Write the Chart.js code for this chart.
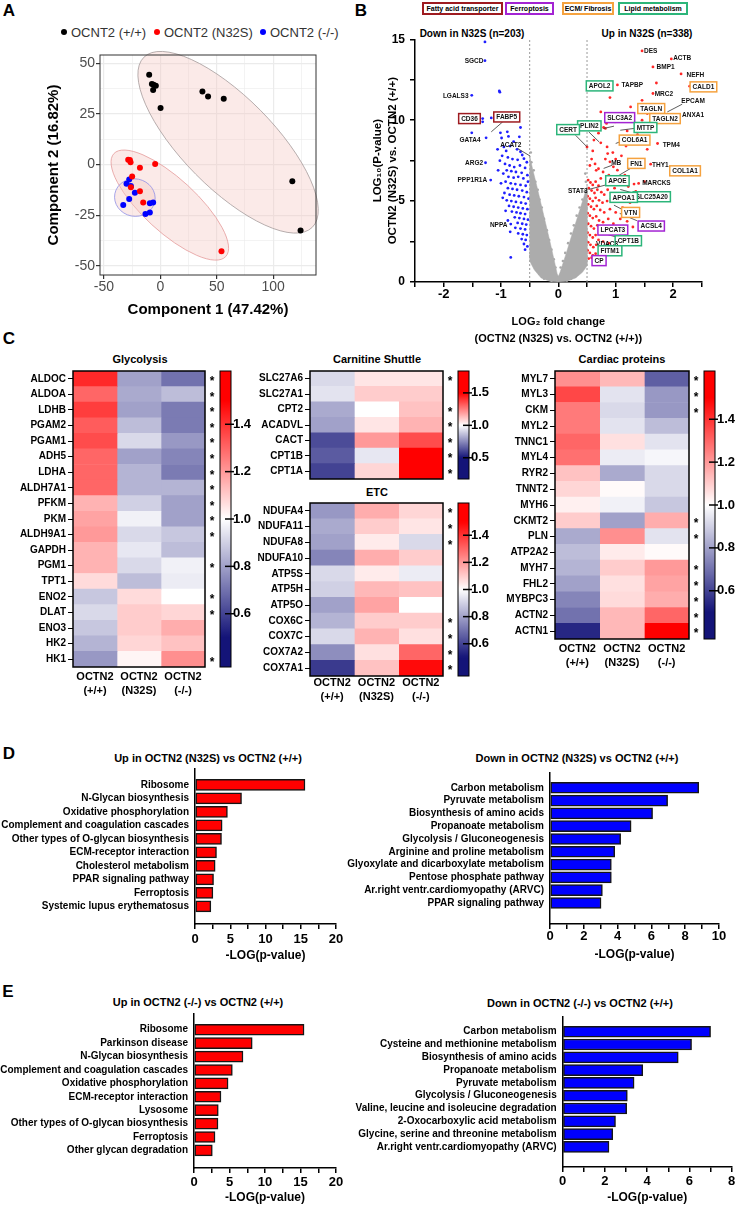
<!DOCTYPE html>
<html>
<head>
<meta charset="utf-8">
<title>OCTN2 proteomics</title>
<script src="https://cdn.jsdelivr.net/npm/chart.js@4.4.1/dist/chart.umd.min.js"></script>
<style>
  body { margin: 0; background: #fff; }
  #fig { position: relative; width: 739px; height: 1207px; overflow: hidden; font-family: 'Liberation Sans', Arial, sans-serif; color: #000; }
  #fig canvas { position: absolute; }
  .t { position: absolute; white-space: nowrap; transform: translate(-50%, -50%); font-weight: bold; }
  .panel { position: absolute; font-weight: bold; font-size: 17px; transform: translate(-50%, -50%); }
  .dot { position: absolute; width: 6px; height: 6px; border-radius: 50%; }
  .lg { position: absolute; font-size: 13px; color: #333; transform: translateY(-50%); white-space: nowrap; }
  .cat { position: absolute; box-sizing: border-box; border: 2px solid; background: #fff; font-weight: bold; font-size: 7px; text-align: center; line-height: 9px; white-space: nowrap; }
</style>
</head>
<body>
<div id="fig">
  <div class="panel" style="left:9px;top:11px">A</div>
  <div class="panel" style="left:361px;top:11px">B</div>
  <div class="panel" style="left:9px;top:339px">C</div>
  <div class="panel" style="left:9px;top:754px">D</div>
  <div class="panel" style="left:8px;top:992px">E</div>

  <span class="dot" style="left:61px;top:29px;background:#000"></span><div class="lg" style="left:71px;top:32px">OCNT2 (+/+)</div>
  <span class="dot" style="left:154px;top:29px;background:#ff0000"></span><div class="lg" style="left:164px;top:32px">OCNT2 (N32S)</div>
  <span class="dot" style="left:260px;top:29px;background:#0000ff"></span><div class="lg" style="left:270px;top:32px">OCNT2 (-/-)</div>

  <div class="cat" style="left:422px;top:2px;width:81px;height:13px;border-color:#9e1b20">Fatty acid transporter</div>
  <div class="cat" style="left:505px;top:2px;width:49px;height:13px;border-color:#a324d3">Ferroptosis</div>
  <div class="cat" style="left:562px;top:2px;width:52px;height:13px;border-color:#f5a23f">ECM/ Fibrosis</div>
  <div class="cat" style="left:618px;top:2px;width:70px;height:13px;border-color:#2cb57a">Lipid metabolism</div>
  <div class="t" style="left:472px;top:33px;font-size:10px">Down in N32S (n=203)</div>
  <div class="t" style="left:647px;top:33px;font-size:10px">Up in N32S (n=338)</div>

  <div class="t" style="left:140px;top:359px;font-size:11px">Glycolysis</div>
  <div class="t" style="left:377px;top:359px;font-size:11px">Carnitine Shuttle</div>
  <div class="t" style="left:377px;top:492px;font-size:11px">ETC</div>
  <div class="t" style="left:622px;top:359px;font-size:11px">Cardiac proteins</div>

  <div class="t" style="left:208px;top:758px;font-size:11px">Up in OCTN2 (N32S) vs OCTN2 (+/+)</div>
  <div class="t" style="left:577px;top:758px;font-size:11px">Down in OCTN2 (N32S) vs OCTN2 (+/+)</div>
  <div class="t" style="left:198px;top:1002px;font-size:11px">Up in OCTN2 (-/-) vs OCTN2 (+/+)</div>
  <div class="t" style="left:580px;top:1003px;font-size:11px">Down in OCTN2 (-/-) vs OCTN2 (+/+)</div>

  <canvas id="pcaChart" width="345" height="285" style="left:0px;top:40px"></canvas>
  <canvas id="volcanoChart" width="369" height="330" style="left:370px;top:20px"></canvas>
  <canvas id="glycChart" width="260" height="335" style="left:0px;top:365px"></canvas>
  <canvas id="carnChart" width="250" height="118" style="left:240px;top:365px"></canvas>
  <canvas id="etcChart" width="250" height="210" style="left:240px;top:497px"></canvas>
  <canvas id="cardChart" width="259" height="310" style="left:480px;top:365px"></canvas>
  <canvas id="upN32SChart" width="370" height="205" style="left:0px;top:762px"></canvas>
  <canvas id="downN32SChart" width="419" height="205" style="left:320px;top:762px"></canvas>
  <canvas id="upKOChart" width="370" height="199" style="left:0px;top:1008px"></canvas>
  <canvas id="downKOChart" width="419" height="199" style="left:320px;top:1008px"></canvas>
</div>

<script>
// ---- A: PCA scores ----
const pcaWT = [[-9.9, 44.3], [-7.5, 39.7], [-4, 38.9], [-6.4, 36.8], [-6, 39.3], [0.2, 27.9],
  [37.3, 36], [42.3, 33.5], [56.2, 32.4], [117, -8.2], [124.3, -32.5]];
const pcaN32S = [[-28.5, 2.4], [-27, 2.3], [-26.4, 1.1], [-18.1, -1.6], [-4.6, 0.3], [-25, -5.9],
  [-26.1, -11.2], [-18.1, -13.1], [-15.2, -18.7], [54.2, -42.7]];
const pcaKO = [[-27.6, -7.4], [-30, -9.5], [-26.1, -10.5], [-22.6, -13.9], [-27.6, -16.9], [-32.9, -19.9],
  [-9.3, -19.1], [-6.4, -18.7], [-13.2, -24.3], [-9.3, -23.6]];
// group ellipses: ends of the long axis (data units) and short/long ratio
const pcaEllipses = [
  { from: [-14.6, 52.9], to: [134.7, -30.9], ratio: 0.38 },
  { from: [-41.2, 5.4], to: [58, -45.3], ratio: 0.35 },
  { from: [-40.3, -14.3], to: [-4.9, -18.2], ratio: 0.92 }
];

// ---- B: volcano ----
const volcanoDown = [[-1.28, 14.84], [-1.28, 13.68], [-1.03, 11.81], [-1.02, 11.73], [-1.51, 11.54],
  [-1.32, 10.1], [-1.32, 9.9], [-1.17, 10.14], [-1.51, 9.22], [-1.26, 8.91], [-1.01, 9.22], [-0.89, 9.28],
  [-0.66, 9.55], [-0.87, 9.0], [-0.68, 8.97], [-0.78, 8.68], [-1.27, 7.37], [-1.18, 6.3], [-0.83, 1.52], [-0.83, 3.58],
  [-0.95, 8.35], [-0.91, 8.1], [-0.84, 8.4], [-0.72, 8.2], [-0.66, 8.05], [-0.63, 7.85], [-0.98, 7.8], [-0.88, 7.7],
  [-0.8, 7.6], [-0.71, 7.55], [-0.6, 7.62], [-0.55, 7.4], [-0.93, 7.3], [-0.85, 7.2], [-0.77, 7.1], [-0.67, 7.2],
  [-0.58, 7.05], [-0.9, 6.9], [-0.82, 6.85], [-0.74, 6.8], [-0.64, 6.75], [-0.54, 6.6], [-0.96, 6.7], [-0.87, 6.5],
  [-0.78, 6.45], [-0.7, 6.5], [-0.61, 6.4], [-0.53, 6.2], [-0.92, 6.2], [-0.83, 6.1], [-0.75, 6.05], [-0.66, 6.0],
  [-0.57, 5.95], [-0.88, 5.8], [-0.8, 5.75], [-0.72, 5.7], [-0.63, 5.65], [-0.55, 5.55], [-0.94, 5.5], [-0.85, 5.4],
  [-0.77, 5.35], [-0.69, 5.3], [-0.6, 5.25], [-0.52, 5.15], [-0.9, 5.05], [-0.82, 5.0], [-0.74, 4.95], [-0.65, 4.9],
  [-0.57, 4.85], [-0.86, 4.7], [-0.78, 4.65], [-0.7, 4.6], [-0.62, 4.55], [-0.54, 4.5], [-0.81, 4.35], [-0.73, 4.3],
  [-0.66, 4.25], [-0.58, 4.2], [-0.76, 4.0], [-0.68, 3.95], [-0.6, 3.9], [-0.53, 3.85], [-0.71, 3.65], [-0.63, 3.6],
  [-0.56, 3.55], [-0.75, 3.35], [-0.66, 3.3], [-0.58, 3.25], [-0.7, 3.0], [-0.62, 2.95], [-0.55, 2.9], [-0.64, 2.65],
  [-0.57, 2.6], [-0.6, 2.35], [-0.54, 2.2], [-0.58, 2.0], [-0.99, 8.9], [-1.06, 8.2], [-1.02, 7.5], [-1.05, 6.9],
  [-1.0, 6.1], [-0.97, 5.2], [-0.92, 4.4], [-0.88, 3.8], [-0.84, 3.1]];
const volcanoUp = [[1.46, 14.28], [1.97, 13.79], [1.65, 13.29], [2.14, 12.86], [1.71, 12.3], [2.29, 12.1],
  [0.92, 12.18], [1.03, 12.18], [1.65, 11.65], [0.9, 11.4], [1.46, 11.23], [1.26, 10.82], [0.74, 10.51],
  [1.72, 10.82], [1.55, 10.41], [0.79, 9.55], [0.82, 9.49], [1.14, 10.0], [1.46, 10.0], [0.99, 9.9], [1.73, 8.56],
  [0.62, 8.77], [0.74, 8.6], [0.5, 8.35], [0.85, 8.35], [1.08, 8.77], [1.32, 8.97], [1.2, 9.34], [1.61, 7.28],
  [2.06, 6.91], [1.4, 7.16], [1.4, 6.09], [1.32, 6.05], [1.16, 6.6], [1.03, 6.91], [0.86, 7.94], [0.9, 7.43],
  [0.96, 7.12], [0.58, 7.6], [0.64, 7.3], [0.7, 7.0], [0.78, 6.8], [0.66, 6.9], [0.55, 7.2], [0.82, 7.6], [0.95, 8.0],
  [1.1, 7.8], [0.6, 8.1], [1.0, 7.6], [0.88, 6.6], [0.74, 6.4], [1.1, 6.3], [1.22, 5.9], [0.98, 5.8], [0.86, 5.7],
  [0.52, 6.3], [0.56, 6.15], [0.6, 6.0], [0.65, 6.2], [0.7, 5.95], [0.53, 5.8], [0.58, 5.65], [0.63, 5.5], [0.68, 5.7],
  [0.75, 5.55], [0.8, 5.4], [0.51, 5.3], [0.55, 5.15], [0.6, 5.0], [0.65, 5.2], [0.71, 5.05], [0.77, 4.9], [0.85, 5.0],
  [0.92, 5.15], [1.02, 5.0], [0.52, 4.8], [0.57, 4.65], [0.62, 4.5], [0.67, 4.7], [0.73, 4.45], [0.8, 4.3], [0.9, 4.5],
  [1.0, 4.3], [1.12, 4.6], [1.25, 4.9], [0.51, 4.25], [0.55, 4.1], [0.6, 3.95], [0.66, 4.05], [0.71, 3.8], [0.78, 3.7],
  [0.87, 3.9], [0.96, 3.6], [1.08, 3.9], [1.2, 3.75], [1.3, 3.4], [0.52, 3.6], [0.57, 3.45], [0.62, 3.3], [0.68, 3.5],
  [0.74, 3.2], [0.82, 3.1], [0.92, 3.0], [0.51, 3.05], [0.55, 2.9], [0.6, 2.75], [0.65, 2.9], [0.7, 2.6], [0.78, 2.5],
  [0.88, 2.4], [0.52, 2.45], [0.56, 2.3], [0.61, 2.15], [0.66, 2.3], [0.72, 2.05], [0.8, 1.9], [0.51, 1.95], [0.55, 1.8],
  [0.6, 1.65], [0.65, 1.75], [0.58, 1.5], [0.53, 1.45], [0.68, 1.55], [0.9, 6.1], [1.05, 6.4], [1.15, 5.3], [1.35, 5.6],
  [1.5, 6.2], [1.28, 7.5], [1.55, 8.2], [1.38, 9.1], [1.18, 8.4], [0.84, 9.8], [0.7, 9.2]];
// non-significant proteins: outline of the dense grey cloud plus the loose points round it
const volcanoNSArea = [[0, 0], [-0.15, 0.05], [-0.3, 0.25], [-0.42, 0.75], [-0.5, 1.3], [-0.5, 7.8], [-0.45, 7.0],
  [-0.38, 6.0], [-0.3, 4.8], [-0.22, 3.6], [-0.14, 2.4], [-0.07, 1.3], [-0.02, 0.5], [0, 0.35], [0.03, 0.6],
  [0.08, 1.15], [0.14, 1.8], [0.2, 2.5], [0.28, 3.4], [0.36, 4.3], [0.44, 5.2], [0.5, 5.9], [0.5, 1.0], [0.42, 0.6],
  [0.3, 0.25], [0.15, 0.05], [0, 0]];
const volcanoNS = [[-0.48, 8.0], [-0.47, 7.4], [-0.43, 6.9], [-0.4, 6.2], [-0.36, 5.7], [-0.33, 5.1], [-0.29, 4.6],
  [-0.25, 3.9], [-0.2, 3.2], [-0.16, 2.6], [-0.12, 2.0], [-0.08, 1.4], [-0.05, 0.9], [0.04, 0.9], [0.08, 1.3], [0.12, 1.8],
  [0.17, 2.4], [0.22, 3.0], [0.27, 3.5], [0.32, 4.1], [0.37, 4.6], [0.42, 5.1], [0.46, 5.6], [0.48, 6.2], [0.47, 6.7],
  [-0.49, 6.5], [-0.47, 5.4], [-0.49, 4.1], [-0.46, 2.6], [-0.49, 1.6], [-0.4, 1.1], [-0.33, 0.5], [-0.25, 0.2],
  [0.22, 0.2], [0.3, 0.35], [0.38, 0.7], [0.45, 1.0], [0.49, 1.6], [0.48, 3.2], [0.49, 4.6], [-0.38, 0.75],
  [0.15, 0.1], [-0.12, 0.08]];
// gene, label x, label y, category (-1 = none; 0 fatty acid, 1 ferroptosis, 2 ECM, 3 lipid)
const volcanoLabels = [
  ['SGCD', -1.47, 13.66, -1], ['LGALS3', -1.79, 11.5, -1], ['CD36', -1.55, 10.1, 0], ['FABP5', -0.9, 10.2, 0],
  ['GATA4', -1.54, 8.8, -1], ['ACAT2', -0.83, 8.46, -1], ['ARG2', -1.47, 7.37, -1], ['PPP1R1A', -1.5, 6.3, -1],
  ['NPPA', -1.04, 3.52, -1], ['DES', 1.61, 14.32, -1], ['ACTB', 2.16, 13.85, -1], ['BMP1', 1.87, 13.3, -1],
  ['NEFH', 2.39, 12.84, -1], ['APOL2', 0.72, 12.12, 3], ['TAPBP', 1.29, 12.18, -1], ['CALD1', 2.53, 12.06, 2],
  ['MRC2', 1.84, 11.65, -1], ['EPCAM', 2.35, 11.19, -1], ['TAGLN', 1.62, 10.72, 2], ['ANXA1', 2.35, 10.37, -1],
  ['TAGLN2', 1.86, 10.1, 2], ['SLC3A2', 1.07, 10.16, 1], ['PLIN2', 0.54, 9.65, 3], ['CERT', 0.17, 9.42, 3],
  ['MTTP', 1.52, 9.55, 3], ['COL6A1', 1.33, 8.77, 2], ['TPM4', 1.97, 8.5, -1], ['MB', 1.01, 7.39, -1],
  ['FN1', 1.36, 7.33, 2], ['THY1', 1.78, 7.28, -1], ['COL1A1', 2.21, 6.87, 2], ['APOE', 1.03, 6.26, 3],
  ['MARCKS', 1.71, 6.13, -1], ['STAT3', 0.34, 5.62, -1], ['SLC25A20', 1.63, 5.27, 3], ['APOA1', 1.14, 5.23, 3],
  ['VTN', 1.26, 4.3, 2], ['ACSL4', 1.62, 3.46, 1], ['LPCAT3', 0.95, 3.21, 1], ['CPT1B', 1.22, 2.55, 3],
  ['VDAC3', 0.85, 2.39, -1], ['FITM1', 0.9, 1.93, 3], ['CP', 0.71, 1.32, 1]];
const volcanoLeaders = [[-0.97, 9.9, -1.17, 9.28], [-0.71, 8.25, -0.49, 7.78], [2.16, 10.99, 1.9, 10.51],
  [0.97, 9.63, 0.79, 9.49], [0.53, 9.28, 0.71, 8.66], [0.3, 9.07, 0.5, 8.35], [1.32, 9.49, 1.08, 9.38],
  [1.07, 8.66, 1.0, 8.56], [0.94, 7.22, 0.79, 7.02], [1.26, 7.02, 1.06, 6.6], [0.53, 5.72, 0.82, 5.99],
  [1.37, 5.43, 1.08, 5.72], [1.11, 4.49, 0.97, 4.75], [1.37, 3.79, 1.07, 4.24], [1.03, 2.76, 0.79, 3.0]];

// ---- C: heat maps (fold change vs mean) ----
const heatColumns = ['(+/+)', '(N32S)', '(-/-)'];
const glycGenes = ['ALDOC', 'ALDOA', 'LDHB', 'PGAM2', 'PGAM1', 'ADH5', 'LDHA', 'ALDH7A1', 'PFKM', 'PKM', 'ALDH9A1',
  'GAPDH', 'PGM1', 'TPT1', 'ENO2', 'DLAT', 'ENO3', 'HK2', 'HK1'];
const glycWT = [1.42, 1.30, 1.38, 1.32, 1.35, 1.30, 1.30, 1.30, 1.15, 1.18, 1.20, 1.15, 1.15, 1.07, 0.88, 0.92, 0.88, 0.84, 0.78];
const glycN32S = [0.80, 0.82, 0.80, 0.86, 0.92, 0.80, 0.84, 0.84, 0.90, 0.97, 0.92, 0.95, 0.92, 0.86, 1.07, 1.10, 1.10, 1.08, 1.02];
const glycKO = [0.70, 0.86, 0.72, 0.72, 0.78, 0.74, 0.72, 0.84, 0.80, 0.80, 0.88, 0.86, 0.97, 0.96, 1.00, 1.08, 1.16, 1.12, 1.22];
const glycSig = [1, 1, 1, 1, 1, 1, 1, 1, 1, 1, 1, 0, 1, 0, 1, 1, 0, 0, 1];

const carnGenes = ['SLC27A6', 'SLC27A1', 'CPT2', 'ACADVL', 'CACT', 'CPT1B', 'CPT1A'];
const carnWT = [0.92, 0.94, 0.82, 0.80, 0.62, 0.65, 0.60];
const carnN32S = [1.05, 1.10, 1.00, 1.05, 1.20, 0.95, 1.08];
const carnKO = [1.05, 1.10, 1.12, 1.15, 1.35, 1.55, 1.52];
const carnSig = [1, 0, 1, 1, 1, 1, 1];

const etcGenes = ['NDUFA4', 'NDUFA11', 'NDUFA8', 'NDUFA10', 'ATP5S', 'ATP5H', 'ATP5O', 'COX6C', 'COX7C', 'COX7A2', 'COX7A1'];
const etcWT = [0.78, 0.82, 0.80, 0.74, 0.92, 0.90, 0.80, 0.84, 0.92, 0.76, 0.58];
const etcN32S = [1.16, 1.10, 1.04, 1.16, 1.04, 1.14, 1.18, 1.10, 1.15, 1.06, 1.12];
const etcKO = [1.08, 1.05, 0.92, 1.10, 0.96, 1.12, 1.00, 1.10, 1.06, 1.30, 1.48];
const etcSig = [1, 1, 1, 0, 0, 0, 0, 1, 1, 1, 1];

const cardGenes = ['MYL7', 'MYL3', 'CKM', 'MYL2', 'TNNC1', 'MYL4', 'RYR2', 'TNNT2', 'MYH6', 'CKMT2', 'PLN', 'ATP2A2',
  'MYH7', 'FHL2', 'MYBPC3', 'ACTN2', 'ACTN1'];
const cardWT = [1.22, 1.36, 1.26, 1.26, 1.30, 1.28, 1.12, 1.08, 1.03, 1.10, 0.82, 0.86, 0.84, 0.80, 0.74, 0.70, 0.54];
const cardN32S = [1.14, 0.94, 0.92, 0.94, 1.06, 0.96, 0.82, 1.01, 0.97, 0.80, 1.22, 1.04, 1.10, 1.06, 1.07, 1.14, 1.14];
const cardKO = [0.66, 0.78, 0.78, 0.86, 0.94, 0.98, 0.92, 0.92, 0.88, 1.16, 0.94, 1.01, 1.20, 1.18, 1.16, 1.30, 1.55];
const cardSig = [1, 1, 1, 0, 0, 0, 0, 0, 0, 1, 1, 0, 1, 1, 1, 1, 1];

// ---- D / E: enriched KEGG pathways, -log(p) ----
const upN32SPathways = ['Ribosome', 'N-Glycan biosynthesis', 'Oxidative phosphorylation', 'Complement and coagulation cascades',
  'Other types of O-glycan biosynthesis', 'ECM-receptor interaction', 'Cholesterol metabolism', 'PPAR signaling pathway',
  'Ferroptosis', 'Systemic lupus erythematosus'];
const upN32SValues = [15.6, 6.6, 4.6, 3.85, 3.76, 3.05, 2.86, 2.63, 2.54, 2.25];
const downN32SPathways = ['Carbon metabolism', 'Pyruvate metabolism', 'Biosynthesis of amino acids', 'Propanoate metabolism',
  'Glycolysis / Gluconeogenesis', 'Arginine and proline metabolism', 'Glyoxylate and dicarboxylate metabolism',
  'Pentose phosphate pathway', 'Ar.right ventr.cardiomyopathy (ARVC)', 'PPAR signaling pathway'];
const downN32SValues = [8.8, 6.96, 6.07, 4.8, 4.18, 3.83, 3.63, 3.63, 3.1, 3.02];
const upKOPathways = ['Ribosome', 'Parkinson disease', 'N-Glycan biosynthesis', 'Complement and coagulation cascades',
  'Oxidative phosphorylation', 'ECM-receptor interaction', 'Lysosome', 'Other types of O-glycan biosynthesis',
  'Ferroptosis', 'Other glycan degradation'];
const upKOValues = [15.5, 8.2, 6.9, 5.4, 4.8, 3.8, 3.42, 3.38, 2.96, 2.58];
const downKOPathways = ['Carbon metabolism', 'Cysteine and methionine metabolism', 'Biosynthesis of amino acids',
  'Propanoate metabolism', 'Pyruvate metabolism', 'Glycolysis / Gluconeogenesis', 'Valine, leucine and isoleucine degradation',
  '2-Oxocarboxylic acid metabolism', 'Glycine, serine and threonine metabolism', 'Ar.right ventr.cardiomyopathy (ARVC)'];
const downKOValues = [7.0, 6.1, 5.47, 3.79, 3.38, 3.06, 3.03, 2.5, 2.37, 2.19];

// ---- shared setup ----
const FONT = "'Liberation Sans', Arial, Helvetica, sans-serif";
const CAT_COLORS = ['#9e1b20', '#a324d3', '#f5a23f', '#2cb57a'];
Chart.defaults.font.family = FONT;
Chart.defaults.color = '#000';
Chart.defaults.animation = false;
Chart.defaults.plugins.legend.display = false;
Chart.defaults.plugins.tooltip.enabled = false;

// fixed axis boxes; the label overhang padding is dropped so the plot areas stay where we put them
const noPad = s => { s.paddingTop = s.paddingBottom = s.paddingLeft = s.paddingRight = 0; };
const fixW = w => scale => { scale.width = w; noPad(scale); };
const fixH = h => scale => { scale.height = h; noPad(scale); };
const toXY = arr => arr.map(p => ({ x: p[0], y: p[1] }));

function heatColor(v) {
    if (v >= 1) {
        const t = Math.min((v - 1) / 0.5, 1);
        const gb = Math.round(255 * (1 - t));
        return `rgb(255,${gb},${gb})`;
    }
    const t = Math.min((1 - v) / 0.5, 1);
    const rg = Math.round(255 - 235 * t);
    return `rgb(${rg},${rg},${Math.round(255 - 135 * t)})`;
}

// ---- A ----
const pcaPlugin = {
    id: 'pcaExtras',
    beforeDatasetsDraw(chart) {
        const { ctx, scales: { x, y } } = chart;
        const strokes = ['#a59a9a', '#e49b9b', '#8f8fe6'];
        pcaEllipses.forEach((e, i) => {
            const x1 = x.getPixelForValue(e.from[0]), y1 = y.getPixelForValue(e.from[1]);
            const x2 = x.getPixelForValue(e.to[0]), y2 = y.getPixelForValue(e.to[1]);
            const a = Math.hypot(x2 - x1, y2 - y1) / 2;
            ctx.save();
            ctx.beginPath();
            ctx.ellipse((x1 + x2) / 2, (y1 + y2) / 2, a, a * e.ratio, Math.atan2(y2 - y1, x2 - x1), 0, Math.PI * 2);
            ctx.fillStyle = 'rgba(245, 200, 195, 0.38)';
            ctx.fill();
            ctx.strokeStyle = strokes[i];
            ctx.lineWidth = 0.8;
            ctx.stroke();
            ctx.restore();
        });
    },
    afterDraw(chart) {
        const { ctx, chartArea: a } = chart;
        ctx.save();
        ctx.strokeStyle = '#333';
        ctx.lineWidth = 1;
        ctx.strokeRect(a.left, a.top, a.right - a.left, a.bottom - a.top);
        ctx.restore();
    }
};

function createPCAChart() {
    const major = (c, step) => c.tick && Math.abs(c.tick.value % step) < 1e-6;
    new Chart(document.getElementById('pcaChart'), {
        type: 'scatter',
        data: {
            datasets: [
                { data: toXY(pcaWT), backgroundColor: '#000', pointRadius: 3, borderWidth: 0 },
                { data: toXY(pcaN32S), backgroundColor: '#ff0000', pointRadius: 3, borderWidth: 0 },
                { data: toXY(pcaKO), backgroundColor: '#0000ff', pointRadius: 3, borderWidth: 0 }
            ]
        },
        options: {
            responsive: false,
            layout: { padding: { top: 15, right: 29 } },
            scales: {
                x: {
                    min: -53.5, max: 138,
                    afterBuildTicks: s => { s.ticks = [-50, -25, 0, 25, 50, 75, 100, 125].map(v => ({ value: v })); },
                    ticks: { callback: v => v % 50 === 0 ? v : '', color: '#4d4d4d', font: { size: 14 }, padding: 0, maxRotation: 0, autoSkip: false },
                    grid: { color: '#ebebeb', lineWidth: c => major(c, 50) ? 1.2 : 0.6, tickColor: c => major(c, 50) ? '#333' : 'rgba(0,0,0,0)', tickLength: 4 },
                    border: { display: false },
                    title: { display: true, text: 'Component 1 (47.42%)', font: { size: 15, weight: 'bold' }, padding: { top: 0, bottom: 6 } },
                    afterFit: fixH(50)
                },
                y: {
                    min: -54.4, max: 54,
                    afterBuildTicks: s => { s.ticks = [-50, -37.5, -25, -12.5, 0, 12.5, 25, 37.5, 50].map(v => ({ value: v })); },
                    ticks: { callback: v => v % 25 === 0 ? v : '', color: '#4d4d4d', font: { size: 14 }, padding: 1, autoSkip: false },
                    grid: { color: '#ebebeb', lineWidth: c => major(c, 25) ? 1.2 : 0.6, tickColor: c => major(c, 25) ? '#333' : 'rgba(0,0,0,0)', tickLength: 4 },
                    border: { display: false },
                    title: { display: true, text: 'Component 2 (16.82%)', font: { size: 15, weight: 'bold' }, padding: { top: 45, bottom: 0 } },
                    afterFit: fixW(100)
                }
            }
        },
        plugins: [pcaPlugin]
    });
}

// ---- B ----
const volcanoPlugin = {
    id: 'volcanoExtras',
    beforeDatasetsDraw(chart) {
        const { ctx, scales: { x, y } } = chart;
        ctx.save();
        ctx.strokeStyle = '#9a9a9a';
        ctx.lineWidth = 1;
        ctx.setLineDash([2, 2]);
        [-0.5, 0.5].forEach(v => {
            const px = x.getPixelForValue(v);
            ctx.beginPath();
            ctx.moveTo(px, y.getPixelForValue(0));
            ctx.lineTo(px, y.getPixelForValue(15));
            ctx.stroke();
        });
        ctx.restore();
    },
    afterDatasetsDraw(chart) {
        const { ctx, scales: { x, y } } = chart;
        ctx.save();
        ctx.strokeStyle = '#333';
        ctx.lineWidth = 0.8;
        volcanoLeaders.forEach(l => {
            ctx.beginPath();
            ctx.moveTo(x.getPixelForValue(l[0]), y.getPixelForValue(l[1]));
            ctx.lineTo(x.getPixelForValue(l[2]), y.getPixelForValue(l[3]));
            ctx.stroke();
        });
        ctx.font = `bold 6.5px ${FONT}`;
        ctx.textAlign = 'center';
        ctx.textBaseline = 'middle';
        volcanoLabels.forEach(([gene, gx, gy, cat]) => {
            const px = x.getPixelForValue(gx), py = y.getPixelForValue(gy);
            if (cat >= 0) {
                const w = ctx.measureText(gene).width + 5, h = 10;
                ctx.fillStyle = '#fff';
                ctx.fillRect(px - w / 2, py - h / 2, w, h);
                ctx.lineWidth = 1.5;
                ctx.strokeStyle = CAT_COLORS[cat];
                ctx.strokeRect(px - w / 2, py - h / 2, w, h);
            }
            ctx.fillStyle = '#111';
            ctx.fillText(gene, px, py + 0.5);
        });
        ctx.restore();
    }
};

function createVolcanoChart() {
    const axisGrid = { drawOnChartArea: false, tickLength: 5, color: '#000', lineWidth: 1.5 };
    new Chart(document.getElementById('volcanoChart'), {
        type: 'scatter',
        data: {
            datasets: [
                { data: toXY(volcanoNSArea), showLine: true, fill: 'shape', backgroundColor: '#acacac', borderColor: '#acacac', borderWidth: 0.5, pointRadius: 0, tension: 0 },
                { data: toXY(volcanoNS), backgroundColor: '#a9a9a9', pointRadius: 1.3, borderWidth: 0 },
                { data: toXY(volcanoDown), backgroundColor: '#1f1fff', pointRadius: 1.4, borderWidth: 0 },
                { data: toXY(volcanoUp), backgroundColor: '#ff2727', pointRadius: 1.4, borderWidth: 0 }
            ]
        },
        options: {
            responsive: false,
            layout: { padding: { top: 19.3, right: 37.3 } },
            scales: {
                x: {
                    min: -2.5, max: 2.5,
                    ticks: { stepSize: 0.5, callback: v => Number.isInteger(v) ? v : '', font: { size: 13, weight: 'bold' }, padding: 0, maxRotation: 0, autoSkip: false },
                    grid: axisGrid,
                    border: { color: '#000', width: 1.5 },
                    title: { display: true, text: ['LOG₂ fold change', '(OCTN2 (N32S) vs. OCTN2 (+/+))'], font: { size: 11, weight: 'bold', lineHeight: 17 / 11 }, padding: { top: 0, bottom: 2.5 } },
                    afterFit: fixH(68)
                },
                y: {
                    min: 0, max: 15,
                    ticks: { stepSize: 2.5, callback: v => v % 5 === 0 ? v : '', font: { size: 12, weight: 'bold' }, padding: 5, autoSkip: false },
                    grid: axisGrid,
                    border: { color: '#000', width: 1.5 },
                    title: { display: true, text: ['LOG₁₀(P-value)', 'OCTN2 (N32S) vs. OCTN2 (+/+)'], font: { size: 11.5, weight: 'bold', lineHeight: 1.3 }, padding: { top: 0.5, bottom: 0 } },
                    afterFit: fixW(45)
                }
            }
        },
        plugins: [volcanoPlugin]
    });
}

// ---- C ----
const heatmapPlugin = {
    id: 'heatmap',
    afterDraw(chart, args, opts) {
        const { ctx, chartArea: a, scales } = chart;
        const cb = scales.cbar;
        ctx.save();
        ctx.strokeStyle = '#000';
        ctx.lineWidth = 1.5;
        ctx.strokeRect(a.left, a.top, a.right - a.left, a.bottom - a.top);

        ctx.fillStyle = '#000';
        ctx.font = `bold 12px ${FONT}`;
        ctx.textAlign = 'center';
        ctx.textBaseline = 'middle';
        opts.sig.forEach((s, i) => {
            if (s) ctx.fillText('*', a.right + 7, scales.y.getPixelForValue(i) + 3);
        });

        // colour bar
        const x0 = a.right + 15, w = 11;
        const grad = ctx.createLinearGradient(0, cb.getPixelForValue(cb.min), 0, cb.getPixelForValue(cb.max));
        for (let v = cb.min; v <= cb.max + 1e-9; v += 0.02) {
            grad.addColorStop(Math.min((v - cb.min) / (cb.max - cb.min), 1), heatColor(v));
        }
        ctx.fillStyle = grad;
        ctx.fillRect(x0, a.top, w, a.bottom - a.top);
        ctx.lineWidth = 1;
        ctx.strokeRect(x0, a.top, w, a.bottom - a.top);
        ctx.lineWidth = 1.5;
        cb.ticks.forEach(t => {
            const py = cb.getPixelForValue(t.value);
            ctx.beginPath();
            ctx.moveTo(x0 + 5, py);
            ctx.lineTo(x0 + w + 3, py);
            ctx.stroke();
        });
        ctx.restore();
    }
};

function createHeatmap(id, genes, columns, sig, cbRange, cbTicks, box) {
    const datasets = columns.map((vals, c) => ({
        data: vals.map(() => [c, c + 1]),
        backgroundColor: vals.map(heatColor),
        borderWidth: 0,
        grouped: false,
        barPercentage: 1,
        categoryPercentage: 1
    }));
    new Chart(document.getElementById(id), {
        type: 'bar',
        data: { labels: genes, datasets },
        options: {
            indexAxis: 'y',
            responsive: false,
            layout: { padding: { top: 6, bottom: box.padBottom || 0 } },
            plugins: { heatmap: { sig } },
            scales: {
                x: {
                    type: 'linear', display: box.xLabels, min: 0, max: 3,
                    afterBuildTicks: s => { s.ticks = [0.5, 1.5, 2.5].map(v => ({ value: v })); },
                    ticks: { callback: (v, i) => ['OCTN2', heatColumns[i]], font: { size: 11, weight: 'bold', lineHeight: 14 / 11 }, padding: box.xPad, maxRotation: 0, autoSkip: false },
                    grid: { display: false, drawTicks: false },
                    border: { display: false },
                    afterFit: fixH(box.xH)
                },
                y: {
                    position: 'left',
                    grid: { drawOnChartArea: false, offset: false, tickLength: 5, color: '#000', lineWidth: 1 },
                    border: { display: false },
                    ticks: { font: { size: 10, weight: 'bold' }, padding: 2, autoSkip: false },
                    afterFit: fixW(box.yW)
                },
                cbar: {
                    axis: 'y', type: 'linear', position: 'right', min: cbRange[0], max: cbRange[1],
                    afterBuildTicks: s => { s.ticks = cbTicks.map(v => ({ value: v })); },
                    ticks: { callback: v => v.toFixed(1), font: { size: 13, weight: 'bold' }, padding: 28, autoSkip: false },
                    grid: { display: false, drawTicks: false },
                    border: { display: false },
                    afterFit: fixW(box.cbW)
                }
            }
        },
        plugins: [heatmapPlugin]
    });
}

// ---- D / E ----
function createPathwayChart(id, names, values, color, xMax, step, labelEvery, yMax, box) {
    new Chart(document.getElementById(id), {
        type: 'bar',
        data: {
            datasets: [{
                data: values.map((v, i) => ({ x: v, y: i })),
                backgroundColor: color,
                borderColor: '#151515',
                borderWidth: 1.5,
                borderSkipped: false,
                barThickness: 11
            }]
        },
        options: {
            indexAxis: 'y',
            responsive: false,
            layout: { padding: { top: box.top, right: box.right } },
            scales: {
                x: {
                    type: 'linear', min: 0, max: xMax,
                    ticks: { stepSize: step, callback: v => v % labelEvery === 0 ? v : '', font: { size: 13, weight: 'bold' }, padding: box.tickPad, maxRotation: 0, autoSkip: false },
                    grid: { drawOnChartArea: false, tickLength: 5, color: '#000', lineWidth: 1.5 },
                    border: { color: '#000', width: 1.5 },
                    title: { display: true, text: '-LOG(p-value)', font: { size: 12, weight: 'bold' }, padding: { top: 0, bottom: box.titlePad } },
                    afterFit: fixH(box.xH)
                },
                y: {
                    type: 'linear', reverse: true, min: -0.6, max: yMax,
                    afterBuildTicks: s => { s.ticks = names.map((n, i) => ({ value: i })); },
                    ticks: { callback: v => names[v], font: { size: 10, weight: 'bold' }, padding: 6, autoSkip: false },
                    grid: { display: false, drawTicks: false },
                    border: { color: '#000', width: 1.5 },
                    afterFit: fixW(box.yW)
                }
            }
        }
    });
}

createPCAChart();
createVolcanoChart();
createHeatmap('glycChart', glycGenes, [glycWT, glycN32S, glycKO], glycSig, [0.5, 1.5], [0.6, 0.8, 1.0, 1.2, 1.4],
    { xLabels: true, xPad: 3, xH: 33, yW: 73, cbW: 55 });
createHeatmap('carnChart', carnGenes, [carnWT, carnN32S, carnKO], carnSig, [0.45, 1.56], [0.5, 1.0, 1.5],
    { xLabels: false, xPad: 0, xH: 0, yW: 70, cbW: 47, padBottom: 4 });
createHeatmap('etcChart', etcGenes, [etcWT, etcN32S, etcKO], etcSig, [0.49, 1.51], [0.6, 0.8, 1.0, 1.2, 1.4],
    { xLabels: true, xPad: 0, xH: 31, yW: 70, cbW: 47 });
createHeatmap('cardChart', cardGenes, [cardWT, cardN32S, cardKO], cardSig, [0.5, 1.5], [0.6, 0.8, 1.0, 1.2, 1.4],
    { xLabels: true, xPad: 3, xH: 36, yW: 75, cbW: 50 });
createPathwayChart('upN32SChart', upN32SPathways, upN32SValues, '#ff0000', 20, 2.5, 5, 9.73,
    { top: 7, right: 34, yW: 195, xH: 43, tickPad: 3, titlePad: 3.8 });
createPathwayChart('downN32SChart', downN32SPathways, downN32SValues, '#0000ff', 10, 1, 2, 10.05,
    { top: 10.5, right: 20, yW: 230, xH: 43, tickPad: 0, titlePad: 4.8 });
createPathwayChart('upKOChart', upKOPathways, upKOValues, '#ff0000', 20, 2.5, 5, 9.74,
    { top: 6, right: 34, yW: 194, xH: 39, tickPad: 2, titlePad: 1.8 });
createPathwayChart('downKOChart', downKOPathways, downKOValues, '#0000ff', 8, 1, 2, 9.98,
    { top: 8.5, right: 7.3, yW: 242.7, xH: 40, tickPad: 2, titlePad: 1.8 });
</script>
</body>
</html>
